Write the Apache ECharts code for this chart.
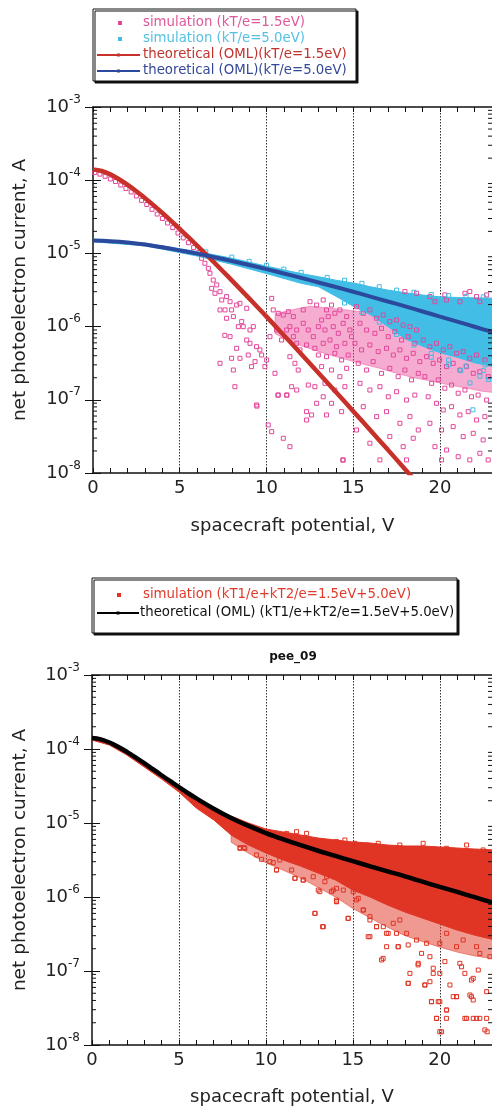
<!DOCTYPE html>
<html><head><meta charset="utf-8">
<script src="https://cdn.jsdelivr.net/npm/echarts@6/dist/echarts.min.js"></script>
<style>html,body{margin:0;padding:0;background:#fff}#c{width:492px;height:1111px}</style>
</head><body><div id="c"></div>
<script>
// ---------- axes / ticks ----------
const X_MIN = 0, X_MAX = 23;
const Y_MIN = 1e-8, Y_MAX = 1e-3;
const xTickLabels = [0, 5, 10, 15, 20];
const minorMantissas = [2, 3, 4, 5, 6, 7, 8, 9];
const minorDecades = [-8, -7, -6, -5, -4];

// ---------- top chart: theoretical curves ----------
const oneFiveV = [0,0.5,1,1.5,2,2.5,3,3.5,4,4.5,5,5.5,6,6.5,7,7.5,8,9,10,11,12,13,14,15,16,17,18,19];
const oml15 = [1.40e-4,1.337e-4,1.20e-4,1.03e-4,8.61e-5,7.05e-5,5.68e-5,4.53e-5,3.57e-5,2.79e-5,2.16e-5,1.67e-5,1.28e-5,9.8e-6,7.46e-6,5.66e-6,4.28e-6,2.43e-6,1.37e-6,7.62e-7,4.23e-7,2.33e-7,1.28e-7,6.99e-8,3.81e-8,2.07e-8,1.12e-8,6.04e-9];
const fiveV = [0,1,2,3,4,5,6,7,8,9,10,11,12,13,14,15,16,17,18,19,20,21,22,23,24];
const oml50 = [1.50e-5,1.47e-5,1.41e-5,1.32e-5,1.21e-5,1.10e-5,9.94e-6,8.88e-6,7.87e-6,6.94e-6,6.09e-6,5.32e-6,4.63e-6,4.01e-6,3.47e-6,2.99e-6,2.57e-6,2.20e-6,1.89e-6,1.61e-6,1.37e-6,1.17e-6,9.95e-7,8.45e-7,7.2e-7];

// ---------- top chart: dense simulation bands ----------
const cyanBandV = [0,3,6,8,10,12,13,14,15,16,17,18,19,20,21,22,23.2];
const cyanUpper = [1.56e-5,1.38e-5,1.06e-5,8.6e-6,6.7e-6,5.3e-6,4.8e-6,4.3e-6,3.95e-6,3.5e-6,3.15e-6,2.9e-6,2.7e-6,2.55e-6,2.5e-6,2.47e-6,2.45e-6];
const cyanLower = [1.44e-5,1.27e-5,9.2e-6,7.1e-6,5.3e-6,3.9e-6,3.5e-6,2.6e-6,1.9e-6,1.45e-6,1.0e-6,6.8e-7,5.4e-7,4.4e-7,3.8e-7,3.2e-7,2.8e-7];
const pinkBandV = [10.5,11.5,12.5,13.5,14.5,15.5,16.5,17.5,18.5,19.5,20.5,21.5,22.5,23.2];
const pinkUpper = [1.5e-6,1.7e-6,1.9e-6,1.8e-6,1.7e-6,1.6e-6,1.45e-6,1.3e-6,1.1e-6,9.5e-7,8.5e-7,7.5e-7,7e-7,6.8e-7];
const pinkLower = [8e-7,6e-7,5e-7,4.2e-7,3.6e-7,3.1e-7,2.7e-7,2.3e-7,2.0e-7,1.8e-7,1.6e-7,1.45e-7,1.3e-7,1.25e-7];

// ---------- top chart: simulation points ----------
const sim15Points = [
[0.1,1.27e-4],[0.4,1.21e-4],[0.7,1.13e-4],[1.0,1.04e-4],[1.3,9.6e-5],[1.6,8.6e-5],[1.9,7.7e-5],[2.2,6.9e-5],[2.5,6.1e-5],[2.8,5.3e-5],[3.1,4.65e-5],[3.4,4.0e-5],[3.7,3.45e-5],[4.0,3.0e-5],[4.3,2.6e-5],[4.6,2.25e-5],[4.9,1.9e-5],[5.2,1.63e-5],[5.5,1.4e-5],[5.8,1.2e-5],[6.1,1.03e-5],
[6.26,8.57e-6],[6.45,7.33e-6],[6.65,6.25e-6],[6.74,5.35e-6],[6.93,4.33e-6],[6.84,3.33e-6],[7.13,3.71e-6],[7.32,3.0e-6],[7.03,2.85e-6],[7.42,2.31e-6],[7.70,2.57e-6],[7.90,2.19e-6],[7.61,1.69e-6],[7.99,1.69e-6],[8.28,1.97e-6],[8.47,2.08e-6],[7.32,1.69e-6],[7.70,1.30e-6],[8.09,1.37e-6],[8.57,1.17e-6],[8.38,9.98e-7],[8.66,9.98e-7],[8.86,1.78e-6],[9.05,8.99e-7],[9.24,9.98e-7],[7.90,7.29e-7],[7.60,7.6e-7],[8.86,6.56e-7],[9.05,5.91e-7],[9.43,5.32e-7],[9.62,4.80e-7],[8.28,5.05e-7],[8.95,4.09e-7],[8.47,3.69e-7],[7.99,3.69e-7],[9.34,3.32e-7],[9.14,2.84e-7],[8.09,2.55e-7],[8.18,1.51e-7],[7.32,3.15e-7],[9.72,4.09e-7],[9.91,2.84e-7],[9.43,8.49e-8],[10.10,4.53e-8],[10.30,3.67e-8],[10.97,2.98e-8],[11.35,2.29e-8],[10.39,1.69e-6],[10.68,1.52e-6],[10.97,1.44e-6],[11.26,1.60e-6],[11.55,1.37e-6],[12.12,1.69e-6],[12.51,2.19e-6],[12.89,1.97e-6],[11.35,9.98e-7],[11.74,8.99e-7],[12.12,1.11e-6],[12.41,8.99e-7],[12.70,7.29e-7],[12.99,9.98e-7],[11.16,8.99e-7],[10.58,8.99e-7],[10.87,6.56e-7],[11.55,7.29e-7],[11.74,5.91e-7],[11.93,4.80e-7],[12.31,5.61e-7],[12.79,5.05e-7],[12.99,4.09e-7],[11.35,3.88e-7],[11.64,3.15e-7],[11.83,2.55e-7],[10.49,2.30e-7],[10.68,1.16e-7],[11.16,1.16e-7],[11.45,1.51e-7],[11.74,1.36e-7],[12.41,1.59e-7],[12.79,1.51e-7],[12.31,6.89e-8],[12.31,5.30e-8],[12.60,6.21e-8],[12.89,8.95e-8],[10.20,7.29e-7],[10.01,3.50e-7],[10.30,2.43e-6],[9.45,8.2e-8],[10.66,1.16e-7],[11.18,1.16e-7],[14.4,1.5e-8],
[17.98,3.01e-6],[18.65,2.85e-6],[19.42,2.57e-6],[19.71,2.19e-6],[20.28,2.71e-6],[20.38,2.31e-6],[21.44,2.85e-6],[21.72,3.01e-6],[22.11,2.57e-6],[22.69,2.71e-6],[21.15,2.19e-6],[22.30,2.19e-6],
[13.27,2.31e-6],[13.46,1.69e-6],[13.75,1.97e-6],[13.18,1.23e-6],[13.56,1.37e-6],[13.94,1.52e-6],[14.23,1.69e-6],[13.37,8.99e-7],[13.85,9.98e-7],[14.14,8.10e-7],[14.42,1.11e-6],[14.62,1.37e-6],[14.81,8.99e-7],[13.27,5.91e-7],[13.66,6.56e-7],[14.04,5.32e-7],[14.52,5.91e-7],[14.90,7.29e-7],[13.46,3.88e-7],[13.94,4.32e-7],[14.33,3.50e-7],[14.71,4.09e-7],[13.18,2.84e-7],[13.75,2.55e-7],[14.23,2.07e-7],[14.62,2.69e-7],[13.37,1.68e-7],[13.94,1.36e-7],[14.52,1.51e-7],[13.27,1.10e-7],[13.75,8.95e-8],[14.33,6.89e-8],[13.46,6.21e-8],
[15.19,1.87e-6],[15.58,1.52e-6],[15.96,1.69e-6],[16.35,1.30e-6],[16.73,1.44e-6],[17.11,1.17e-6],[17.50,1.23e-6],[17.88,1.05e-6],[18.27,9.98e-7],[18.65,8.99e-7],[15.39,1.11e-6],[15.77,8.99e-7],[16.25,8.10e-7],[16.63,9.48e-7],[17.02,7.29e-7],[17.40,8.53e-7],[17.79,6.56e-7],[18.17,7.29e-7],[18.55,5.91e-7],[15.10,5.91e-7],[15.48,4.80e-7],[15.96,5.61e-7],[16.44,4.55e-7],[16.92,5.05e-7],[17.31,4.09e-7],[17.69,4.80e-7],[18.07,3.69e-7],[18.46,4.32e-7],[18.84,3.32e-7],[15.29,3.15e-7],[15.77,2.55e-7],[16.15,3.32e-7],[16.63,2.30e-7],[17.11,2.69e-7],[17.59,2.07e-7],[17.98,2.55e-7],[18.36,1.87e-7],[18.75,2.30e-7],[15.39,1.68e-7],[15.96,1.36e-7],[16.54,1.51e-7],[17.02,1.10e-7],[17.50,1.29e-7],[18.07,9.93e-8],[18.55,1.16e-7],[15.58,8.06e-8],[16.35,5.89e-8],[16.92,6.89e-8],[17.69,4.78e-8],[18.27,5.89e-8],[18.75,3.87e-8],[15.19,3.87e-8],[15.96,2.55e-8],[17.11,3.14e-8],[17.88,2.29e-8],[16.54,1.51e-8],[14.42,1.51e-8],[18.07,1.51e-8],[18.46,2.98e-8],
[19.04,6.56e-7],[19.42,5.32e-7],[19.80,5.91e-7],[20.19,4.80e-7],[20.57,5.32e-7],[20.96,4.32e-7],[21.34,4.55e-7],[21.72,3.69e-7],[22.11,4.09e-7],[22.59,3.50e-7],[19.23,3.88e-7],[19.61,3.15e-7],[19.98,3.50e-7],[20.38,2.84e-7],[20.76,3.15e-7],[21.15,2.55e-7],[21.53,2.84e-7],[21.92,2.30e-7],[22.30,2.42e-7],[22.78,2.07e-7],[19.13,2.07e-7],[19.52,1.68e-7],[19.90,1.87e-7],[20.28,1.44e-7],[20.67,1.59e-7],[21.05,1.23e-7],[21.44,1.36e-7],[21.82,1.10e-7],[22.20,1.16e-7],[22.69,9.93e-8],[19.32,1.10e-7],[19.80,8.95e-8],[20.19,7.26e-8],[20.67,8.06e-8],[21.15,6.21e-8],[21.63,6.89e-8],[22.11,5.30e-8],[22.59,5.89e-8],[19.42,4.78e-8],[20.09,3.87e-8],[20.76,4.30e-8],[21.34,3.14e-8],[21.92,3.48e-8],[22.49,2.83e-8],[19.71,2.29e-8],[20.38,2.06e-8],[21.05,1.67e-8],[21.72,1.51e-8],[22.30,1.86e-8],[22.78,1.51e-8],[20.09,1.51e-8]
];
const sim50Points = [
[6.5,1.05e-5],[8,8.9e-6],[9,7.8e-6],[10,6.9e-6],[11,6.1e-6],[12,5.5e-6],[13.5,4.7e-6],[14.5,4.3e-6],[15.5,3.9e-6],[16.5,3.5e-6],[17.5,3.15e-6],[18.5,2.95e-6],[19.5,2.75e-6],[20.5,2.65e-6],[21.5,2.6e-6],[22.5,2.55e-6],
[14.5,2.1e-6],[15.5,1.55e-6],[16.5,1.15e-6],[17.5,7.8e-7],[18.5,5.6e-7],[19.5,4.3e-7],[20.5,3.5e-7],[21.5,2.9e-7],[22.5,2.5e-7],
[21.73,1.7e-7],[21.9,7.3e-8],[22.3,2.1e-7],[22.8,1.9e-7],[20.5,3.0e-7],[19.5,3.8e-7],[21.2,2.5e-7],[22.6,3.0e-7]
];

// ---------- bottom chart ----------
const mixV = [0,0.5,1,1.5,2,2.5,3,3.5,4,4.5,5,5.5,6,7,8,9,10,11,12,13,14,15,16,17,18,19,20,21,22,23,24];
const omlMix = [1.41e-4,1.352e-4,1.225e-4,1.072e-4,9.16e-5,7.72e-5,6.44e-5,5.34e-5,4.42e-5,3.67e-5,3.05e-5,2.55e-5,2.15e-5,1.56e-5,1.17e-5,9.13e-6,7.32e-6,6.01e-6,5.01e-6,4.22e-6,3.59e-6,3.05e-6,2.60e-6,2.22e-6,1.90e-6,1.61e-6,1.37e-6,1.17e-6,9.95e-7,8.45e-7,7.2e-7];
const mixBandV = [0,1,2,3,4,5,6,7,8,9,10,11,12,13,14,15,16,17,18,19,20,21,22,23.2];
const mixUpper = [1.45e-4,1.28e-4,9.69e-5,6.67e-5,4.59e-5,3.16e-5,2.25e-5,1.59e-5,1.24e-5,1.0e-5,8.3e-6,7.55e-6,6.88e-6,6.27e-6,5.89e-6,5.53e-6,5.37e-6,5.04e-6,4.89e-6,4.89e-6,4.74e-6,4.59e-6,4.45e-6,4.32e-6];
const mixLower = [1.32e-4,1.13e-4,8.3e-5,5.71e-5,3.93e-5,2.62e-5,1.59e-5,1.10e-5,6.88e-6,5.04e-6,3.94e-6,3.16e-6,2.62e-6,2.11e-6,1.70e-6,1.24e-6,1.0e-6,7.8e-7,6.27e-7,5.2e-7,4.32e-7,3.58e-7,3.06e-7,2.62e-7];
const mixFringeV = [8,9,10,11,12,13,14,15,16,17,18,19,20,21,22,23.2];
const mixFringeUpper = [6.88e-6,5.04e-6,3.94e-6,3.16e-6,2.62e-6,2.11e-6,1.70e-6,1.24e-6,1.0e-6,7.8e-7,6.27e-7,5.2e-7,4.32e-7,3.58e-7,3.06e-7,2.62e-7];
const mixFringeLower = [5.5e-6,3.9e-6,2.9e-6,2.3e-6,1.8e-6,1.35e-6,1.0e-6,7.0e-7,5.2e-7,3.9e-7,3.0e-7,2.5e-7,2.1e-7,1.8e-7,1.6e-7,1.45e-7];
const simMixPoints = [
[8.51,4.64e-6],[8.74,4.64e-6],[9.46,3.70e-6],[9.75,3.23e-6],[10.23,3.0e-6],[10.42,2.91e-6],[10.61,2.32e-6],[11.19,7.24e-6],[11.76,7.63e-6],[12.34,7.24e-6],[11.67,1.79e-6],[12.15,1.70e-6],[12.72,1.88e-6],[13.01,1.24e-6],[13.39,1.61e-6],[13.77,1.18e-6],[14.06,1.31e-6],[14.06,9.1e-7],[12.82,6.01e-7],[13.26,3.97e-7],[10.80,3.16e-6],[11.48,2.32e-6],[13.10,2.32e-6],[13.49,1.88e-6],
[14.06,5.60e-6],[14.54,5.89e-6],[15.12,5.31e-6],[16.46,5.31e-6],[17.70,5.04e-6],[19.04,5.31e-6],[20.39,4.55e-6],[21.54,5.04e-6],[22.49,4.32e-6],
[14.06,8.65e-7],[14.73,5.15e-7],[14.45,1.24e-6],[15.21,9.1e-7],[15.60,6.67e-7],[15.98,5.42e-7],[16.36,3.97e-7],[16.75,3.97e-7],[17.03,3.23e-7],[15.98,2.91e-7],[16.65,1.41e-7],[17.32,4.41e-7],[17.70,4.89e-7],[18.09,3.23e-7],[17.61,2.13e-7],[18.28,9.29e-8],[18.18,6.81e-8],[18.76,1.27e-7],[18.95,1.73e-7],[19.24,2.37e-7],[19.43,1.56e-7],[19.62,9.29e-8],[19.14,6.47e-8],[19.43,7.17e-8],[19.52,3.85e-8],[19.91,3.85e-8],[19.81,2.29e-8],[20.29,1.34e-7],[20.39,2.97e-8],[20.10,1.51e-8],[20.77,4.50e-8],[20.96,4.50e-8],[20.58,6.47e-8],[21.25,1.14e-7],[21.44,9.29e-8],[21.73,4.74e-8],[21.54,2.29e-8],[22.11,2.29e-8],[21.92,4.06e-8],[21.82,7.55e-8],[22.21,1.03e-7],[22.69,5.26e-8],[22.69,2.29e-8],[22.59,1.60e-8],[22.30,1.73e-7],[22.88,1.56e-7],[20.96,2.13e-7],[20.00,2.37e-7],[18.66,2.62e-7],[17.51,3.23e-7],[16.94,2.13e-7],[20.39,3.23e-7],[21.34,2.62e-7],[22.11,2.13e-7],
[15.88,2.91e-7],[16.93,3.23e-7],[16.74,1.48e-7],[17.60,2.13e-7],[18.18,2.25e-7],[18.75,1.21e-7],[18.18,6.81e-8],[19.14,6.47e-8],[19.62,1.09e-7],[20.0,9.29e-8],[19.52,3.85e-8],[20.0,3.85e-8],[20.38,2.97e-8],[19.81,2.29e-8],[20.38,2.29e-8],[20.96,4.50e-8],[21.44,2.29e-8],[21.92,2.29e-8],[21.82,4.50e-8],[22.30,2.29e-8],[22.72,1.51e-8],[20.0,1.51e-8],[21.92,7.96e-8],[21.15,1.27e-7],
[8.51,4.54e-6],[8.79,4.54e-6],[10.61,2.32e-6],[11.67,1.79e-6],[12.14,1.69e-6],[12.82,6.01e-7],[13.30,3.97e-7],[14.06,8.65e-7],[14.73,5.14e-7],[15.60,6.67e-7],[15.98,4.89e-7],[16.36,3.97e-7],[13.10,1.18e-6],[13.87,1.24e-6],[15.02,1.18e-6],[15.31,9.59e-7]
];

// ---------- styling ----------
const FONT = '"DejaVu Sans", sans-serif';
const C_PINK = '#e4479a', C_CYAN = '#41bde6', C_RED = '#c8302a', C_BLUE = '#2b4a9e', C_SIMRED = '#e03424', C_BLACK = '#000';
const AX = '#111';

const grids = [
  { left: 93, top: 107, width: 399, height: 366 },
  { left: 92, top: 675, width: 400, height: 370 }
];

function xAxes(g) {
  const base = { type: 'value', gridIndex: g, min: X_MIN, max: X_MAX };
  return [
    Object.assign({}, base, { position: 'bottom', interval: 1,
      axisLine: { show: true, onZero: false, lineStyle: { color: AX, width: 1.5 } },
      axisTick: { show: true, inside: true, length: 5, lineStyle: { color: AX, width: 1 } },
      axisLabel: { show: false }, splitLine: { show: false } }),
    Object.assign({}, base, { position: 'bottom', interval: 5,
      axisLine: { show: false }, axisTick: { show: false },
      axisLabel: { show: true, margin: 6, fontSize: 18, color: '#222', fontFamily: FONT, showMaxLabel: false,
        formatter: v => xTickLabels.indexOf(v) >= 0 ? String(v) : '' },
      splitLine: { show: true, showMinLine: false, showMaxLine: false, lineStyle: { type: [1.5, 1.5], color: '#333', width: 1 } },
      name: 'spacecraft potential, V', nameLocation: 'middle', nameGap: g === 0 ? 44 : 43,
      nameTextStyle: { fontSize: 18, color: '#222', fontFamily: FONT } }),
    Object.assign({}, base, { position: 'top', interval: 1,
      axisLine: { show: true, onZero: false, lineStyle: { color: AX, width: 1.5 } },
      axisTick: { show: true, inside: true, length: 5, lineStyle: { color: AX, width: 1 } },
      axisLabel: { show: false }, splitLine: { show: false } })
  ];
}
function yAxes(g) {
  const base = { type: 'log', logBase: 10, gridIndex: g, min: Y_MIN, max: Y_MAX };
  return [
    Object.assign({}, base, { position: 'left',
      axisLine: { show: true, onZero: false, lineStyle: { color: AX, width: 1.5 } },
      axisTick: { show: true, inside: true, length: 8, lineStyle: { color: AX, width: 1 } },
      axisLabel: { margin: 12, fontFamily: FONT,
        formatter: v => '{b|10}{s|-' + Math.abs(Math.round(Math.log10(v))) + '}',
        rich: { b: { fontSize: 18, color: '#222', fontFamily: FONT }, s: { fontSize: 12, color: '#222', fontFamily: FONT, padding: [0, 0, 15, 0] } } },
      splitLine: { show: false },
      name: 'net photoelectron current, A', nameLocation: 'middle', nameGap: g === 0 ? 63 : 62,
      nameTextStyle: { fontSize: 18.5, color: '#222', fontFamily: FONT } }),
    Object.assign({}, base, { position: 'right',
      axisLine: { show: false },
      axisTick: { show: true, inside: true, length: 8, lineStyle: { color: AX, width: 1 } },
      axisLabel: { show: false }, splitLine: { show: false } })
  ];
}

function band(g, V, up, lo, color, z) {
  return { type: 'custom', xAxisIndex: 3 * g, yAxisIndex: 2 * g, clip: true, silent: true, z: z,
    data: [[V[0], up[0]]],
    renderItem: function (params, api) {
      const pts = [];
      for (let i = 0; i < V.length; i++) pts.push(api.coord([V[i], up[i]]));
      for (let i = V.length - 1; i >= 0; i--) pts.push(api.coord([V[i], lo[i]]));
      return { type: 'polygon', shape: { points: pts }, style: { fill: color, stroke: color, lineWidth: 1 } };
    } };
}
function pts(g, data, color, z) {
  return { type: 'scatter', xAxisIndex: 3 * g, yAxisIndex: 2 * g, data: data, symbol: 'rect', symbolSize: 4,
    silent: true, z: z, itemStyle: { color: 'rgba(255,255,255,0)', borderColor: color, borderWidth: 1, opacity: 1 } };
}
function curve(g, V, vals, color, w) {
  return { type: 'line', xAxisIndex: 3 * g, yAxisIndex: 2 * g, data: V.map((v, i) => [v, vals[i]]),
    symbol: 'none', smooth: 0.4, silent: true, z: 8, lineStyle: { color: color, width: w } };
}
const minorTickData = [];
minorDecades.forEach(d => minorMantissas.forEach(m => minorTickData.push([X_MIN, m * Math.pow(10, d)])));
function minorTicks(g) {
  return { type: 'custom', xAxisIndex: 3 * g, yAxisIndex: 2 * g, silent: true, z: 9, data: minorTickData,
    renderItem: function (params, api) {
      const v = api.value(1);
      const pl = api.coord([X_MIN, v]), pr = api.coord([X_MAX, v]);
      return { type: 'group', children: [
        { type: 'line', shape: { x1: pl[0], y1: pl[1], x2: pl[0] + 4, y2: pl[1] }, style: { stroke: AX, lineWidth: 1 } },
        { type: 'line', shape: { x1: pr[0] - 4, y1: pr[1], x2: pr[0], y2: pr[1] }, style: { stroke: AX, lineWidth: 1 } }
      ] };
    } };
}

function legendText(x, y, text, color) {
  return { type: 'text', x: x, y: y, z: 101, style: { text: text, fill: color, fontSize: 13.3, fontFamily: FONT, verticalAlign: 'middle' } };
}
function legendSquare(x, y, color) {
  return { type: 'rect', z: 101, shape: { x: x - 2, y: y - 2, width: 4, height: 4 }, style: { fill: color } };
}
function legendLine(x1, x2, y, color) {
  return [{ type: 'line', z: 101, shape: { x1: x1, y1: y, x2: x2, y2: y }, style: { stroke: color, lineWidth: 2 } },
          { type: 'rect', z: 102, shape: { x: (x1 + x2) / 2 - 1.5, y: y - 1.5, width: 3, height: 3 }, style: { fill: color } }];
}

const graphic = [
  { type: 'rect', z: 100, shape: { x: 93, y: 9, width: 263, height: 72 },
    style: { fill: '#fff', stroke: '#111', lineWidth: 1, shadowColor: '#111', shadowOffsetX: 2, shadowOffsetY: 2, shadowBlur: 0 } },
  legendSquare(120, 23, C_PINK), legendText(143, 23, 'simulation (kT/e=1.5eV)', '#e0589a'),
  legendSquare(120, 39, C_CYAN), legendText(143, 39, 'simulation (kT/e=5.0eV)', '#55c0e2'),
  ...legendLine(97, 140, 55, C_RED), legendText(143, 55, 'theoretical (OML)(kT/e=1.5eV)', '#c0322c'),
  ...legendLine(97, 140, 71, C_BLUE), legendText(143, 71, 'theoretical (OML)(kT/e=5.0eV)', '#34489a'),
  { type: 'rect', z: 100, shape: { x: 92, y: 578, width: 365, height: 55 },
    style: { fill: '#fff', stroke: '#111', lineWidth: 1, shadowColor: '#111', shadowOffsetX: 2, shadowOffsetY: 2, shadowBlur: 0 } },
  legendSquare(119, 595, C_SIMRED), legendText(143, 595, 'simulation (kT1/e+kT2/e=1.5eV+5.0eV)', '#e03a2a'),
  ...legendLine(97, 139, 613, C_BLACK), legendText(140, 613, 'theoretical (OML) (kT1/e+kT2/e=1.5eV+5.0eV)', '#111'),
  { type: 'text', x: 293, y: 657, z: 101, style: { text: 'pee_09', fill: '#111', fontSize: 12, fontWeight: 'bold', fontFamily: FONT, align: 'center', verticalAlign: 'middle' } }
];

const chart = echarts.init(document.getElementById('c'), null, { renderer: 'canvas' });
chart.setOption({
  animation: false,
  backgroundColor: '#fff',
  grid: grids,
  xAxis: [...xAxes(0), ...xAxes(1)],
  yAxis: [...yAxes(0), ...yAxes(1)],
  graphic: graphic,
  series: [
    band(0, pinkBandV, pinkUpper, pinkLower, 'rgba(232,72,150,0.45)', 2),
    band(0, cyanBandV, cyanUpper, cyanLower, C_CYAN, 3),
    pts(0, sim15Points, C_PINK, 4),
    pts(0, sim50Points, C_CYAN, 5),
    curve(0, oneFiveV, oml15, C_RED, 4.5),
    curve(0, fiveV, oml50, C_BLUE, 4),
    minorTicks(0),
    band(1, mixFringeV, mixFringeUpper, mixFringeLower, 'rgba(224,52,36,0.5)', 2),
    band(1, mixBandV, mixUpper, mixLower, C_SIMRED, 3),
    pts(1, simMixPoints, C_SIMRED, 4),
    curve(1, mixV, omlMix, C_BLACK, 4.5),
    minorTicks(1)
  ]
});
</script></body></html>
